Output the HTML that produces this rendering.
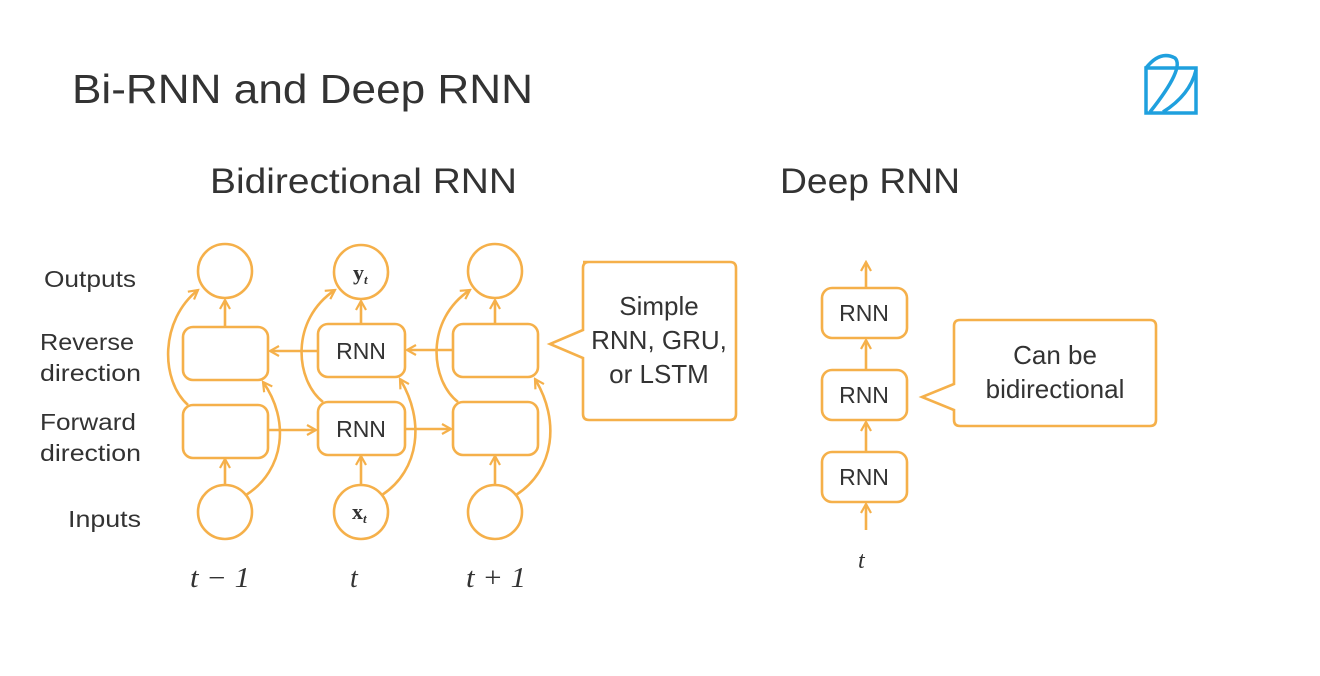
<!DOCTYPE html>
<html><head><meta charset="utf-8"><style>
body{margin:0;background:#fff;width:1320px;height:676px;overflow:hidden}
svg{display:block}
text{font-family:"Liberation Sans",sans-serif;fill:#333}
</style></head><body>
<svg width="1320" height="676" viewBox="0 0 1320 676">
<defs>
<marker id="a" viewBox="0 0 12 12" refX="10" refY="6" markerWidth="12" markerHeight="12" markerUnits="userSpaceOnUse" orient="auto">
<path d="M1,1 L10,6 L1,11" fill="none" stroke="#F5B04A" stroke-width="2.2"/></marker>
</defs>
<text x="72" y="103" font-size="41" fill="#222" textLength="461" lengthAdjust="spacingAndGlyphs">Bi-RNN and Deep RNN</text>
<g fill="none" stroke="#1FA0DE" stroke-width="3.5">
<rect x="1146" y="68" width="50" height="45"/>
<path d="M1146,68 Q1160,50 1175,58 Q1185,68 1150,112"/>
<path d="M1163,112 Q1190,95 1196,70"/>
</g>
<text x="210" y="193" font-size="35" fill="#333" textLength="307" lengthAdjust="spacingAndGlyphs">Bidirectional RNN</text>
<text x="780" y="193" font-size="35" fill="#333" textLength="180" lengthAdjust="spacingAndGlyphs">Deep RNN</text>
<g font-size="23" fill="#444">
<text x="44" y="287" textLength="92" lengthAdjust="spacingAndGlyphs">Outputs</text>
<text x="40" y="350" textLength="94" lengthAdjust="spacingAndGlyphs">Reverse</text>
<text x="40" y="381" textLength="101" lengthAdjust="spacingAndGlyphs">direction</text>
<text x="40" y="430" textLength="96" lengthAdjust="spacingAndGlyphs">Forward</text>
<text x="40" y="461" textLength="101" lengthAdjust="spacingAndGlyphs">direction</text>
<text x="68" y="527" textLength="73" lengthAdjust="spacingAndGlyphs">Inputs</text>
</g>
<g font-size="28" font-style="italic">
<text x="190" y="587" style="font-family:'Liberation Serif'" textLength="60" lengthAdjust="spacingAndGlyphs">t − 1</text>
<text x="350" y="587" style="font-family:'Liberation Serif'">t</text>
<text x="466" y="587" style="font-family:'Liberation Serif'" textLength="60" lengthAdjust="spacingAndGlyphs">t + 1</text>
<text x="858" y="568" style="font-family:'Liberation Serif'" font-size="24">t</text>
</g>
<g fill="none" stroke="#F5B04A" stroke-width="2.6">
<circle cx="225" cy="271" r="27"/><circle cx="361" cy="272" r="27"/><circle cx="495" cy="271" r="27"/>
<circle cx="225" cy="512" r="27"/><circle cx="361" cy="512" r="27"/><circle cx="495" cy="512" r="27"/>
<rect x="183" y="327" width="85" height="53" rx="10"/><rect x="183" y="405" width="85" height="53" rx="10"/>
<rect x="318" y="324" width="87" height="53" rx="10"/><rect x="318" y="402" width="87" height="53" rx="10"/>
<rect x="453" y="324" width="85" height="53" rx="10"/><rect x="453" y="402" width="85" height="53" rx="10"/>
<g marker-end="url(#a)">
<line x1="225" y1="327" x2="225" y2="300"/><line x1="361" y1="324" x2="361" y2="301"/><line x1="495" y1="324" x2="495" y2="300"/>
<line x1="225" y1="485" x2="225" y2="459"/><line x1="361" y1="485" x2="361" y2="456"/><line x1="495" y1="485" x2="495" y2="456"/>
<line x1="318" y1="351" x2="270" y2="351"/><line x1="453" y1="350" x2="407" y2="350"/>
<line x1="268" y1="430" x2="316" y2="430"/><line x1="405" y1="429" x2="451" y2="429"/>
<path d="M188,405 C160,380 160,320 198,290"/>
<path d="M323,402 C295,380 290,320 335,290"/>
<path d="M458,402 C430,380 425,320 470,290"/>
<path d="M246,495 C285,470 290,420 263,382"/>
<path d="M382,495 C420,470 425,420 400,379"/>
<path d="M516,495 C555,470 560,420 535,379"/>
<line x1="866" y1="288" x2="866" y2="262"/><line x1="866" y1="370" x2="866" y2="340"/>
<line x1="866" y1="452" x2="866" y2="422"/><line x1="866" y1="530" x2="866" y2="504"/>
</g>
<path d="M583,262 H730 Q736,262 736,268 V414 Q736,420 730,420 H589 Q583,420 583,414 V358 L550,344 L583,330 V268 Q583,262 589,262 Z"/>
<rect x="822" y="288" width="85" height="50" rx="10"/><rect x="822" y="370" width="85" height="50" rx="10"/><rect x="822" y="452" width="85" height="50" rx="10"/>
<path d="M960,320 H1150 Q1156,320 1156,326 V420 Q1156,426 1150,426 H960 Q954,426 954,420 V410 L922,397 L954,384 V326 Q954,320 960,320 Z"/>
</g>
<g font-size="23" fill="#444" text-anchor="middle">
<text x="361" y="359">RNN</text><text x="361" y="437">RNN</text>
<text x="864" y="321">RNN</text><text x="864" y="403">RNN</text><text x="864" y="485">RNN</text>
<text x="659" y="315" font-size="26">Simple</text><text x="659" y="349" font-size="26">RNN, GRU,</text><text x="659" y="383" font-size="26">or LSTM</text>
<text x="1055" y="364" font-size="26">Can be</text><text x="1055" y="398" font-size="26">bidirectional</text>
</g>
<g font-weight="bold" font-size="22">
<text x="353" y="280" style="font-family:'Liberation Serif'">y<tspan font-size="13" font-style="italic" dy="4">t</tspan></text>
<text x="352" y="519" style="font-family:'Liberation Serif'">x<tspan font-size="13" font-style="italic" dy="4">t</tspan></text>
</g>
</svg>
</body></html>
